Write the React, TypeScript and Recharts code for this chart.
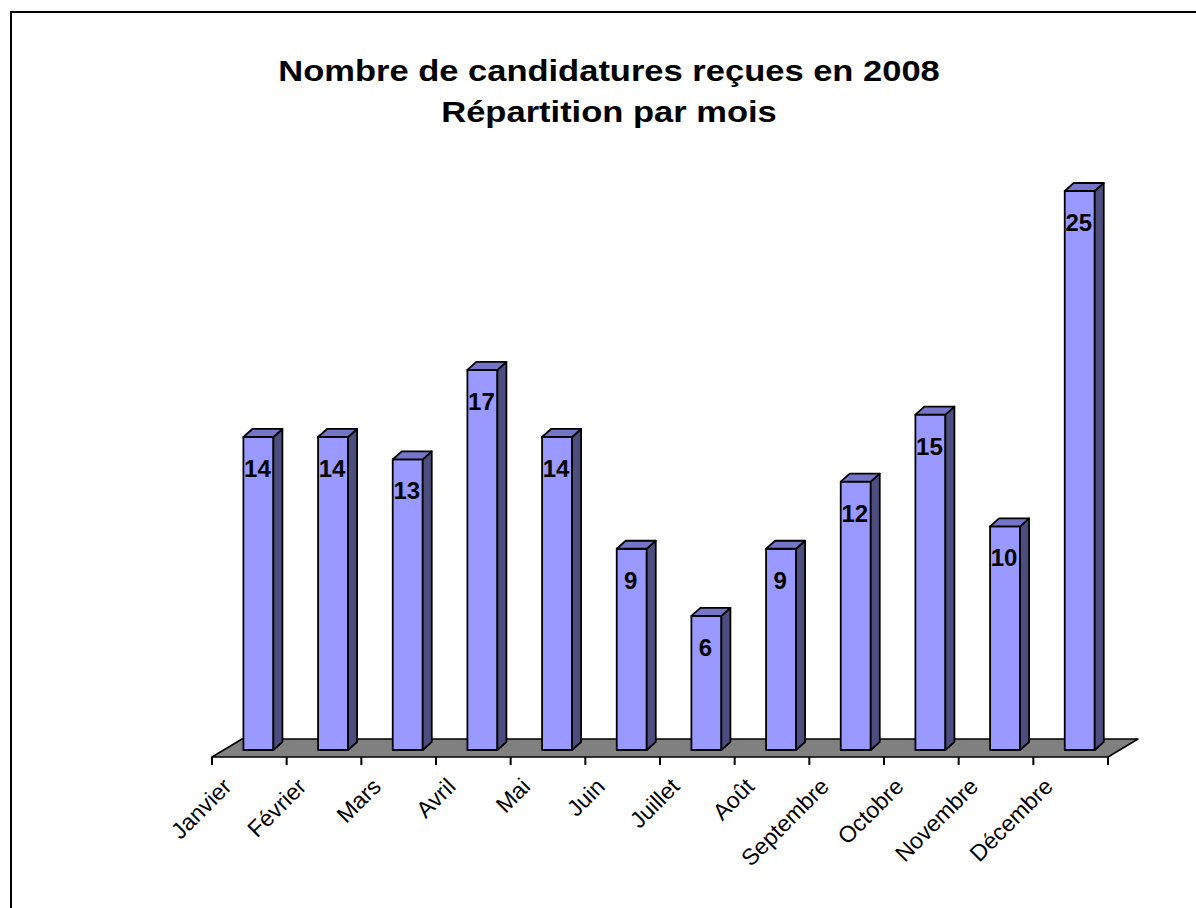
import React from "react";
import { BarChart, Bar, XAxis, YAxis, ReferenceArea, LabelList } from "recharts";

const months = ["Janvier", "Février", "Mars", "Avril", "Mai", "Juin", "Juillet", "Août", "Septembre", "Octobre", "Novembre", "Décembre"];
const candidatures = [14, 14, 13, 17, 14, 9, 6, 9, 12, 15, 10, 25];
const titleLines = ["Nombre de candidatures reçues en 2008", "Répartition par mois"];

const data = months.map((month, i) => ({ month, value: candidatures[i] }));

const W = 1196;
const H = 908;
const MARGIN = { top: 198, right: 88, left: 212, bottom: 51 };
const AXIS_H = 100;
const BAND = (W - MARGIN.left - MARGIN.right) / months.length;

// 3d look: bars sit a bit back on the floor
const SHIFT_X = 9;
const SHIFT_Y = 7;
const DEPTH_X = 9;
const DEPTH_Y = 8;
const FLOOR_X = 30;
const FLOOR_Y = 18;

const FONT = '"Liberation Sans", Arial, sans-serif';

function Bar3D(props: any) {
  const { x, y, width, height } = props;
  const fx = x + SHIFT_X;
  const fy = y - SHIFT_Y;
  const r = fx + width;
  const b = fy + height;
  return (
    <g stroke="#000" strokeWidth={1.8} strokeLinejoin="round">
      <rect x={fx} y={fy} width={width} height={height} fill="#9999FF" />
      <polygon points={`${r},${fy} ${r + DEPTH_X},${fy - DEPTH_Y} ${r + DEPTH_X},${b - DEPTH_Y} ${r},${b}`} fill="#4D4D80" />
      <polygon points={`${fx},${fy} ${fx + DEPTH_X},${fy - DEPTH_Y} ${r + DEPTH_X},${fy - DEPTH_Y} ${r},${fy}`} fill="#7676C8" />
    </g>
  );
}

function Floor(props: any) {
  const { x, y, width, height } = props;
  const base = y + height;
  const pts = `${x},${base} ${x + width},${base} ${x + width + FLOOR_X},${base - FLOOR_Y} ${x + FLOOR_X},${base - FLOOR_Y}`;
  return <polygon points={pts} fill="#808080" stroke="#000" strokeWidth={1.5} strokeLinejoin="round" />;
}

function MonthTick(props: any) {
  const { x, y, payload, index } = props;
  const start = x - BAND / 2;
  const tx = start + 21;
  const ty = y + 31;
  return (
    <g>
      <line x1={start} y1={y} x2={start} y2={y + 8} stroke="#000" strokeWidth={2} />
      {index === months.length - 1 && (
        <line x1={x + BAND / 2} y1={y} x2={x + BAND / 2} y2={y + 8} stroke="#000" strokeWidth={2} />
      )}
      <text x={tx} y={ty} transform={`rotate(-45 ${tx} ${ty})`} textAnchor="end" fontFamily={FONT} fontSize={23} fill="#000">
        {payload.value}
      </text>
    </g>
  );
}

function ValueLabel(props: any) {
  const { x, y, width, value } = props;
  return (
    <text x={x + SHIFT_X + width / 2 - 1} y={y - SHIFT_Y + 40} textAnchor="middle" fontFamily={FONT} fontWeight="bold" fontSize={24} fill="#000">
      {value}
    </text>
  );
}

export default function App() {
  return (
    <div style={{ position: "absolute", left: 0, top: 0, width: W, height: H, background: "#fff", overflow: "hidden" }}>
      <div style={{ position: "absolute", left: 10, top: 11, width: W, height: H, borderLeft: "2px solid #000", borderTop: "2px solid #000" }} />
      <div style={{ position: "absolute", left: 0, top: 50, width: 1218, textAlign: "center", fontFamily: FONT, fontWeight: "bold", fontSize: 30, lineHeight: "41px", color: "#000", transform: "scaleX(1.15)", transformOrigin: "609px 0" }}>
        {titleLines.map((t) => (
          <div key={t}>{t}</div>
        ))}
      </div>
      <div style={{ position: "absolute", left: 0, top: 0 }}>
        <BarChart width={W} height={H} data={data} margin={MARGIN} barCategoryGap="30%">
          <XAxis dataKey="month" axisLine={false} tickLine={false} tickSize={0} tickMargin={0} height={AXIS_H} interval={0} tick={<MonthTick />} />
          <YAxis hide domain={[0, 25]} />
          <ReferenceArea y1={0} y2={1} ifOverflow="visible" shape={<Floor />} />
          <Bar dataKey="value" isAnimationActive={false} shape={<Bar3D />}>
            <LabelList dataKey="value" content={<ValueLabel />} />
          </Bar>
        </BarChart>
      </div>
    </div>
  );
}
